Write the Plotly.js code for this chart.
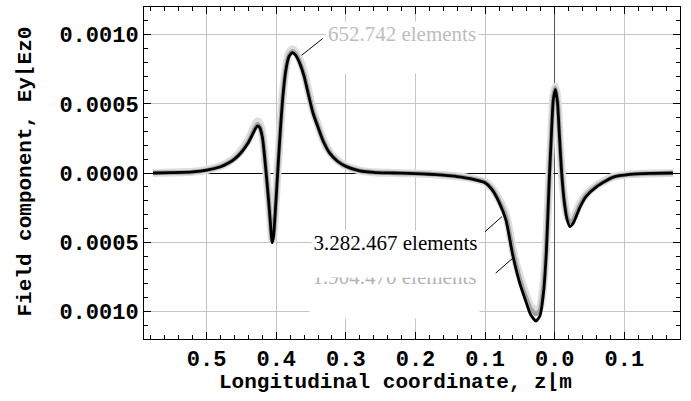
<!DOCTYPE html>
<html>
<head>
<meta charset="utf-8">
<script src="https://cdn.plot.ly/plotly-3.0.1.min.js"></script>
<style>html,body{margin:0;padding:0;background:#fff;}#chart{width:691px;height:401px;}</style>
</head>
<body>
<div id="chart"></div>
<script>
// Longitudinal coordinate z (m)
const zPos = [-0.577,-0.55,-0.52,-0.50,-0.48,-0.47,-0.46,-0.45,-0.44,-0.435,-0.43,-0.427,-0.424,-0.42,-0.417,-0.414,-0.411,-0.408,-0.406,-0.404,-0.401,-0.398,-0.394,-0.39,-0.386,-0.382,-0.377,-0.372,-0.366,-0.36,-0.353,-0.347,-0.34,-0.333,-0.323,-0.312,-0.30,-0.28,-0.26,-0.24,-0.22,-0.20,-0.18,-0.16,-0.14,-0.12,-0.10,-0.09,-0.08,-0.07,-0.06,-0.05,-0.042,-0.035,-0.027,-0.021,-0.016,-0.012,-0.008,-0.005,-0.002,0.001,0.004,0.007,0.010,0.014,0.018,0.022,0.027,0.036,0.045,0.06,0.084,0.108,0.14,0.17];

// Ey/Ez0 for three mesh sizes
const ey652742 = [0,3e-6,9e-6,2.2e-5,5.0e-5,7.5e-5,1.1e-4,1.65e-4,2.4e-4,2.95e-4,3.5e-4,3.72e-4,3.6e-4,2.85e-4,1.5e-4,-1e-5,-1.8e-4,-3.6e-4,-4.8e-4,-4.4e-4,-2.3e-4,2e-5,3.4e-4,6.0e-4,7.7e-4,8.65e-4,8.95e-4,8.75e-4,8.15e-4,7.25e-4,5.75e-4,4.5e-4,3.45e-4,2.45e-4,1.5e-4,9e-5,5.1e-5,1.7e-5,5e-6,1e-6,-1e-6,-4e-6,-8e-6,-1.5e-5,-2.4e-5,-3.9e-5,-6.5e-5,-1.1e-4,-1.9e-4,-3.0e-4,-5.6e-4,-7.5e-4,-8.7e-4,-9.6e-4,-1.0e-3,-9.7e-4,-8.0e-4,-5.0e-4,-5e-5,2.6e-4,5.5e-4,6.25e-4,5.3e-4,2.6e-4,1e-5,-2.0e-4,-3.1e-4,-3.4e-4,-3.2e-4,-2.25e-4,-1.55e-4,-9.0e-5,-2.8e-5,-9e-6,-3e-6,0];
const ey1904470 = [0,3e-6,8e-6,2.1e-5,4.7e-5,7.0e-5,1.03e-4,1.55e-4,2.28e-4,2.8e-4,3.32e-4,3.52e-4,3.4e-4,2.7e-4,1.38e-4,-2.2e-5,-1.9e-4,-3.75e-4,-4.95e-4,-4.5e-4,-2.4e-4,1e-5,3.3e-4,5.9e-4,7.6e-4,8.5e-4,8.8e-4,8.6e-4,8.0e-4,7.1e-4,5.6e-4,4.4e-4,3.4e-4,2.4e-4,1.45e-4,8.7e-5,4.9e-5,1.6e-5,5e-6,1e-6,-1e-6,-4e-6,-8e-6,-1.5e-5,-2.5e-5,-4.0e-5,-6.7e-5,-1.15e-4,-2.0e-4,-3.15e-4,-5.7e-4,-7.7e-4,-8.9e-4,-9.8e-4,-1.02e-3,-9.9e-4,-8.2e-4,-5.3e-4,-6e-5,2.55e-4,5.4e-4,6.15e-4,5.2e-4,2.55e-4,5e-6,-2.05e-4,-3.2e-4,-3.55e-4,-3.35e-4,-2.35e-4,-1.6e-4,-9.5e-5,-2.9e-5,-1e-5,-3e-6,0];
const ey3282467 = [0,3e-6,8e-6,2.0e-5,4.5e-5,6.8e-5,1.0e-4,1.5e-4,2.2e-4,2.7e-4,3.2e-4,3.41e-4,3.3e-4,2.6e-4,1.3e-4,-3e-5,-2.0e-4,-3.9e-4,-5.05e-4,-4.6e-4,-2.5e-4,0,3.2e-4,5.8e-4,7.5e-4,8.4e-4,8.7e-4,8.5e-4,7.9e-4,7.0e-4,5.5e-4,4.3e-4,3.3e-4,2.35e-4,1.42e-4,8.5e-5,4.8e-5,1.6e-5,5e-6,1e-6,-1e-6,-4e-6,-9e-6,-1.6e-5,-2.6e-5,-4.2e-5,-7.0e-5,-1.2e-4,-2.1e-4,-3.4e-4,-6.0e-4,-8.0e-4,-9.2e-4,-1.02e-3,-1.07e-3,-1.03e-3,-8.6e-4,-5.7e-4,-7e-5,2.5e-4,5.3e-4,6.05e-4,5.1e-4,2.5e-4,0,-2.2e-4,-3.4e-4,-3.87e-4,-3.6e-4,-2.5e-4,-1.7e-4,-1.0e-4,-3e-5,-1e-5,-3e-6,0];

// Axis ticks (labels as printed, without minus signs)
const xTickVals = [-0.5,-0.4,-0.3,-0.2,-0.1,0,0.1];
const xTickText = ["0.5","0.4","0.3","0.2","0.1","0.0","0.1"];
const yTickVals = [-0.001,-0.0005,0,0.0005,0.001];
const yTickText = ["0.0010","0.0005","0.0000","0.0005","0.0010"];

// Series labels and axis titles
const seriesNames = ["652.742 elements","1.904.470 elements","3.282.467 elements"];
const xTitle = "Longitudinal coordinate, z⌊m";
const yTitle = "Field component, Ey⌊Ez0";

const monoFam = "Liberation Mono, DejaVu Sans Mono, Courier New, monospace";
const tickFont = {family:monoFam, size:22, weight:"bold", color:"#000"};
const titleFont = {family:monoFam, size:21, weight:"bold", color:"#000"};
const serif = "Liberation Serif, Times New Roman, serif";

const traces = [
  {x:zPos, y:ey652742, name:seriesNames[0], mode:"lines", line:{color:"#dedede", width:8, shape:"spline", smoothing:0.6}},
  {x:zPos, y:ey1904470, name:seriesNames[1], mode:"lines", line:{color:"#a2a2a2", width:4.5, shape:"spline", smoothing:0.6}},
  {x:zPos, y:ey3282467, name:seriesNames[2], mode:"lines", line:{color:"#000000", width:2.8, shape:"spline", smoothing:0.6}}
];

const axisCommon = {
  showline:true, linecolor:"#000", linewidth:1, mirror:"ticks",
  ticks:"inside", ticklen:7, tickwidth:1, tickcolor:"#000",
  showgrid:true, gridcolor:"#c4c4c4", gridwidth:1,
  tickmode:"array", tickfont:tickFont, automargin:false
};

const layout = {
  width:691, height:401,
  margin:{l:144, r:11, t:7, b:62},
  paper_bgcolor:"#fff", plot_bgcolor:"#fff",
  showlegend:false,
  xaxis:Object.assign({}, axisCommon, {
    range:[-0.59, 0.18], tickvals:xTickVals, ticktext:xTickText,
    zeroline:true, zerolinecolor:"#555", zerolinewidth:1,
    minor:{tickmode:"linear", tick0:0, dtick:0.02, ticks:"inside", ticklen:4, tickcolor:"#000", showgrid:false}
  }),
  yaxis:Object.assign({}, axisCommon, {
    range:[-0.0012, 0.0012], tickvals:yTickVals, ticktext:yTickText,
    zeroline:true, zerolinecolor:"#000", zerolinewidth:1,
    minor:{tickmode:"linear", tick0:0, dtick:0.0001, ticks:"inside", ticklen:4, tickcolor:"#000", showgrid:false}
  }),
  annotations:[
    {xref:"paper", yref:"paper", x:0.470, y:-0.1325, xanchor:"center", yanchor:"middle", showarrow:false,
     text:xTitle, font:titleFont},
    {xref:"paper", yref:"paper", x:-0.222, y:0.5045, xanchor:"center", yanchor:"middle", showarrow:false,
     textangle:-90, text:yTitle, font:titleFont},
    {xref:"x", yref:"y", x:-0.2194, y:0.0010967, xanchor:"center", yanchor:"top", width:152, height:51,
     bgcolor:"#fff", borderpad:0, valign:"top", showarrow:false, text:seriesNames[0],
     font:{family:serif, size:21, color:"#bdbdbd"}},
    {xref:"x", yref:"y", x:-0.2295, y:-0.000656, xanchor:"center", yanchor:"top", width:169, height:53,
     bgcolor:"#fff", borderpad:0, valign:"top", showarrow:false, text:seriesNames[1],
     font:{family:serif, size:21, color:"#b3b3b3"}},
    {xref:"x", yref:"y", x:-0.2288, y:-0.000411, xanchor:"center", yanchor:"top", width:167, height:46,
     bgcolor:"#fff", borderpad:0, valign:"top", showarrow:false, text:seriesNames[2],
     font:{family:serif, size:21, color:"#000"}}
  ],
  shapes:[
    {type:"line", xref:"x", yref:"y", x0:-0.3635, y0:0.000851, x1:-0.3333, y1:0.000972, line:{color:"#000", width:1}},
    {type:"line", xref:"x", yref:"y", x0:-0.1001, y0:-0.000424, x1:-0.0757, y1:-0.000315, line:{color:"#000", width:1}},
    {type:"line", xref:"x", yref:"y", x0:-0.0848, y0:-0.000724, x1:-0.0585, y1:-0.000608, line:{color:"#000", width:1}}
  ]
};

Plotly.newPlot("chart", traces, layout, {displayModeBar:false, staticPlot:true});
</script>
</body>
</html>
